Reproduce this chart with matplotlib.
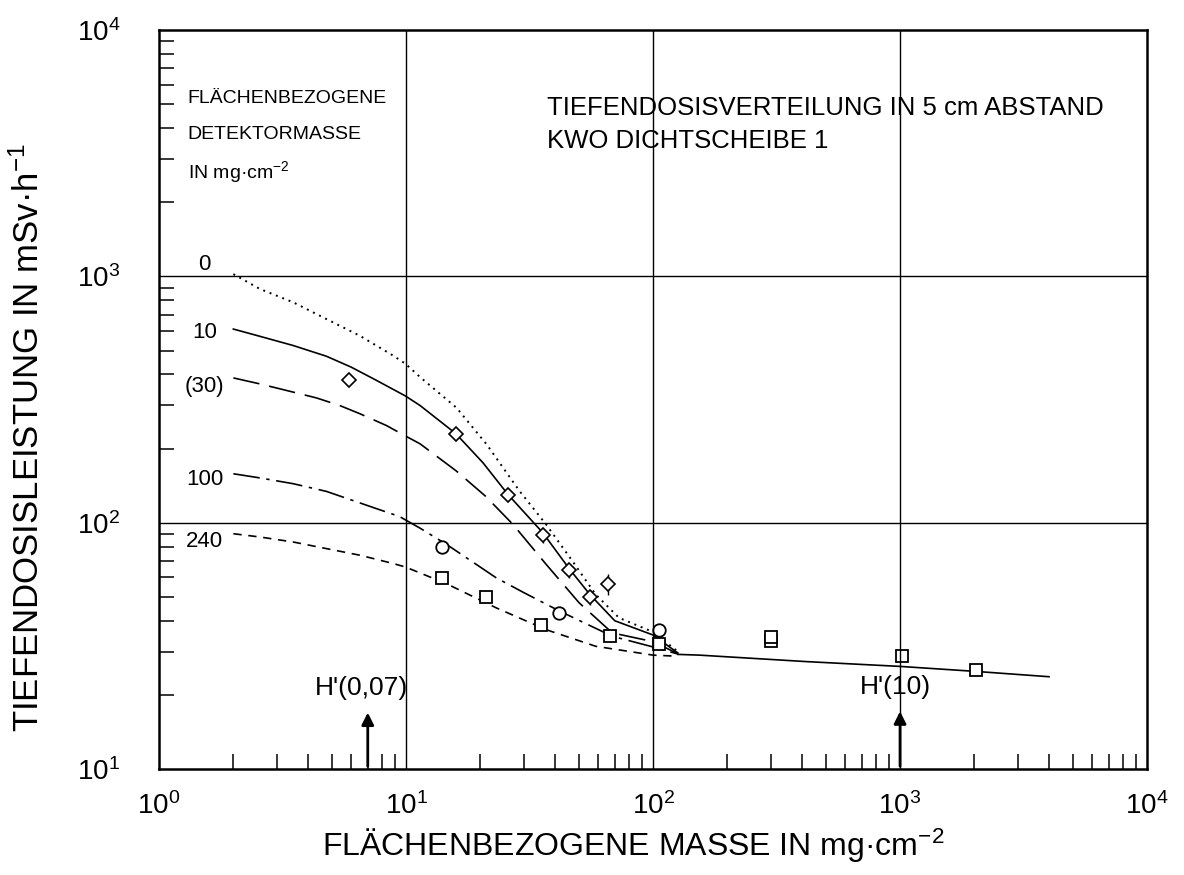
import matplotlib.pyplot as plt
import numpy as np

plt.rcParams['font.family'] = ['Liberation Sans', 'DejaVu Sans']

# Kurven (flächenbezogene Detektormasse 0, 10, 30, 100, 240 mg/cm2)
x_0 = [2.0, 2.56, 3.49, 4.76, 6.5, 8.86, 9.94, 11.4, 16, 21.2, 28.8, 36.9, 47.2, 58.6, 72.8, 100, 126]
y_0 = [1021, 889, 785, 671, 574, 477, 442, 390, 293, 208, 134.5, 98.4, 69.8, 51.1, 41.1, 36, 30.0]

x_10 = [2.0, 2.56, 3.49, 4.76, 6.0, 7.6, 9.94, 11.4, 15.9, 20.5, 25.9, 35.8, 45.8, 55.6, 70, 100, 126]
y_10 = [611, 571, 524, 474, 428, 378, 327, 299, 230, 175, 130, 91, 65, 51, 40, 35, 29.6]

x_30 = [2.0, 2.56, 3.49, 4.34, 5.39, 6.5, 8.33, 9.94, 11.4, 16, 21, 27.1, 36.9, 50.2, 68.4, 100, 126]
y_30 = [387, 366, 339, 321, 299, 277, 248, 225, 209, 162, 128, 98.4, 67.8, 47.3, 35.7, 32.9, 29.4]

x_100 = [2.0, 2.56, 3.49, 4.76, 6.1, 7.6, 9.4, 11.4, 14.6, 23.2, 30, 41.8, 68.4, 100, 126]
y_100 = [158, 152, 144, 134, 123, 114, 106, 95, 81.6, 59.7, 52, 43.8, 34.6, 31.3, 29.3]

x_240 = [2.0, 2.56, 3.49, 4.76, 6.5, 8.86, 9.94, 14.6, 23.2, 36.9, 58.6, 100, 126]
y_240 = [90.2, 87.5, 83.5, 78.5, 73.8, 68.3, 66.1, 56.5, 45.1, 36.8, 31.5, 29.0, 28.7]

# gemeinsamer Verlauf oberhalb 100 mg/cm2
x_tail = [126, 154, 417, 1000, 2032, 4010]
y_tail = [29.2, 29.0, 27.3, 26.1, 24.9, 23.7]

# Messwerte
dia_x = [5.9, 15.9, 25.9, 35.8, 45.8, 55.6, 65.5]
dia_y = [378, 230, 130, 89, 64.4, 50, 56.5]
dia_err = [0, 0, 0.06, 0.07, 0.07, 0.07, 0.10]

circ_x = [14.0, 41.8, 106]
circ_y = [79.6, 42.9, 36.7]

sq_x = [14.0, 21.0, 35.2, 66.8, 106, 300, 300, 1016, 2032]
sq_y = [59.7, 50, 38.3, 34.6, 32.2, 33.0, 34.2, 28.8, 25.2]

curve_labels = ['0', '10', '(30)', '100', '240']
label_y = [1119, 592, 357, 150, 83.7]

fig = plt.figure(figsize=(11.84, 8.75), dpi=100)
ax = fig.add_axes([0.1343, 0.1211, 0.8345, 0.8446])

lw = 1.2
ax.plot(x_0, y_0, color='black', lw=1.4, linestyle=(0, (1, 2.5)))
ax.plot(x_10, y_10, color='black', lw=lw)
ax.plot(x_30, y_30, color='black', lw=lw, linestyle=(0, (16, 6)))
ax.plot(x_100, y_100, color='black', lw=lw, linestyle=(0, (16, 4, 2, 4)))
ax.plot(x_240, y_240, color='black', lw=lw, linestyle=(0, (5, 4)))
ax.plot(x_tail, y_tail, color='black', lw=lw)

dia_yerr = np.array(dia_y) * np.array(dia_err)
ax.errorbar(dia_x, dia_y, yerr=dia_yerr, fmt='D', ms=7, mfc='white', mec='black',
            mew=1.2, ecolor='black', elinewidth=1, capsize=0)
ax.plot(circ_x, circ_y, 'o', ms=9, mfc='white', mec='black', mew=1.3)
ax.plot(sq_x, sq_y, 's', ms=9, mfc='white', mec='black', mew=1.3)

for lab, yy in zip(curve_labels, label_y):
    ax.text(1.53, yy, lab, fontsize=16, ha='center', va='center')

ax.set_xscale('log')
ax.set_yscale('log')
ax.set_xlim(1, 1e4)
ax.set_ylim(10, 1e4)

# Gitter
for gx in [10, 100, 1000]:
    ax.axvline(gx, color='black', lw=1.0)
for gy in [100, 1000]:
    ax.axhline(gy, color='black', lw=1.0)

ax.set_xticks([1, 10, 100, 1000, 10000])
ax.set_xticklabels([r'$\mathregular{10^{%d}}$' % i for i in range(5)])
ax.set_yticks([10, 100, 1000, 10000])
ax.set_yticklabels([r'$\mathregular{10^{%d}}$' % i for i in range(1, 5)])
ax.tick_params(which='major', length=0, labelsize=20)
ax.tick_params(axis='x', which='major', pad=17)
ax.tick_params(axis='y', which='major', pad=28)
ax.tick_params(which='minor', direction='in', length=11, width=1.1,
               top=False, right=False, labelbottom=False, labelleft=False)
for s in ax.spines.values():
    s.set_linewidth(1.8)

# Pfeile H'(0,07) und H'(10)
ax.annotate('', xy=(7, 17.4), xytext=(7, 10),
            arrowprops=dict(arrowstyle='-|>', color='black', lw=2, mutation_scale=18))
ax.annotate('', xy=(1000, 17.6), xytext=(1000, 10),
            arrowprops=dict(arrowstyle='-|>', color='black', lw=2, mutation_scale=18))
ax.text(6.6, 21.3, "H'(0,07)", fontsize=19, ha='center', va='center')
ax.text(955, 21.5, "H'(10)", fontsize=19, ha='center', va='center')

ax.text(0.029, 0.908, 'FLÄCHENBEZOGENE', transform=ax.transAxes, fontsize=14, va='center')
ax.text(0.029, 0.858, 'DETEKTORMASSE', transform=ax.transAxes, fontsize=14, va='center')
ax.text(0.029, 0.808, r'IN mg·cm$\mathregular{^{-2}}$', transform=ax.transAxes,
        fontsize=14, va='center')

ax.text(0.393, 0.895, 'TIEFENDOSISVERTEILUNG IN 5 cm ABSTAND', transform=ax.transAxes,
        fontsize=18.5, va='center')
ax.text(0.393, 0.85, 'KWO DICHTSCHEIBE 1', transform=ax.transAxes,
        fontsize=18.5, va='center')

fig.text(0.535, 0.033, r'FLÄCHENBEZOGENE MASSE IN mg·cm$\mathregular{^{-2}}$',
         fontsize=23, ha='center', va='center')
fig.text(0.024, 0.50, r'TIEFENDOSISLEISTUNG IN mSv·h$\mathregular{^{-1}}$',
         fontsize=25, ha='center', va='center', rotation=90)

fig.savefig('out.png', dpi=100)
